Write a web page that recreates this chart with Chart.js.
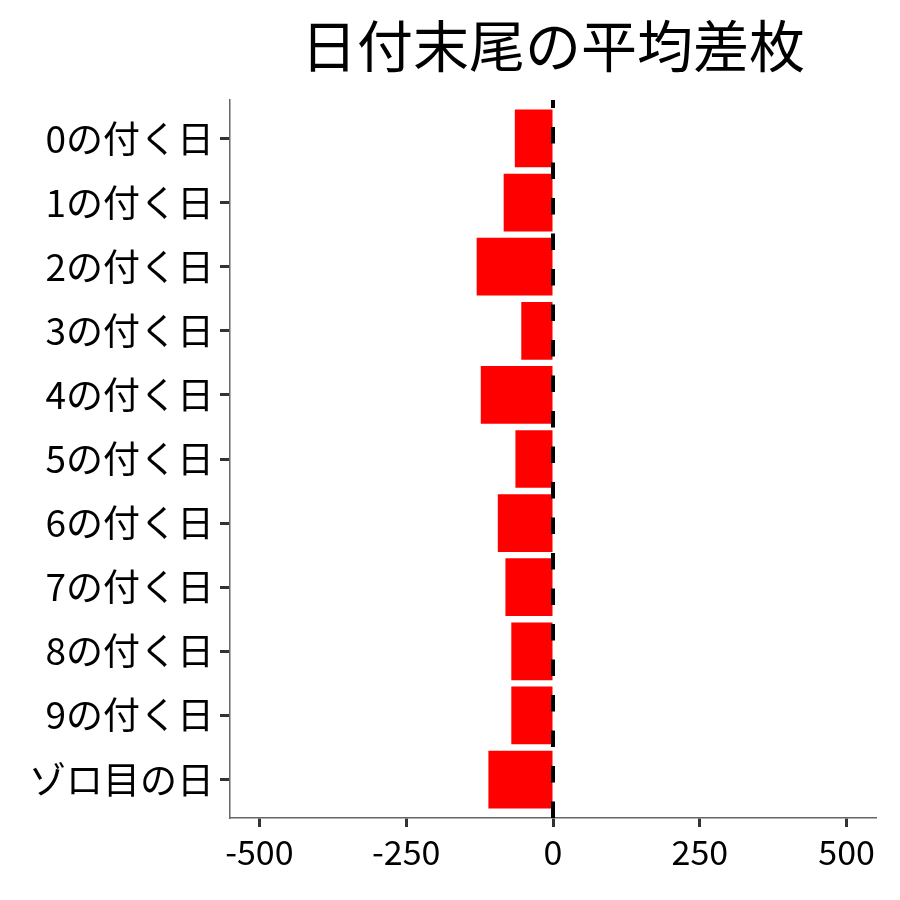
<!DOCTYPE html>
<html>
<head>
<meta charset="utf-8">
<script src="https://cdn.jsdelivr.net/npm/chart.js@4/dist/chart.umd.min.js"></script>
<style>
  html, body { margin: 0; padding: 0; background: #fff; }
  #wrap { width: 900px; height: 900px; }
</style>
</head>
<body>
<div id="wrap"><canvas id="diff_chart" width="900" height="900"></canvas></div>
<script>
// 日付末尾ごとの平均差枚
var categories = ["0の付く日", "1の付く日", "2の付く日", "3の付く日", "4の付く日",
                  "5の付く日", "6の付く日", "7の付く日", "8の付く日", "9の付く日", "ゾロ目の日"];
var avgDiff = [-65, -84, -130, -54, -123, -64, -94, -81, -71, -71, -110];
var xTicks = [-500, -250, 0, 250, 500];
var titleText = "日付末尾の平均差枚";

var JP = "'Noto Sans CJK JP', 'Noto Sans', sans-serif";

// タイトル (プロット領域の中央に置く)
var titlePlugin = {
    id: "centerTitle",
    afterDraw: function (chart) {
        var ctx = chart.ctx, area = chart.chartArea;
        ctx.save();
        ctx.fillStyle = "#000";
        ctx.font = "56px " + JP;
        ctx.textAlign = "center";
        ctx.textBaseline = "middle";
        ctx.fillText(titleText, (area.left + area.right) / 2, 46);
        ctx.restore();
    }
};

// x = 0 の破線
var zeroLine = {
    id: "zeroLine",
    afterDatasetsDraw: function (chart) {
        var ctx = chart.ctx, area = chart.chartArea;
        var x = chart.scales.x.getPixelForValue(0);
        ctx.save();
        ctx.strokeStyle = "#000";
        ctx.lineWidth = 4;
        ctx.setLineDash([16.5, 19]);
        ctx.beginPath();
        ctx.moveTo(x, area.bottom);
        ctx.lineTo(x, area.top);
        ctx.stroke();
        ctx.restore();
    }
};

// カテゴリは位置番号で並べ、上下に 0.6 の余白をとる
var points = avgDiff.map(function (v, i) { return { x: v, y: i }; });

var ctx = document.getElementById("diff_chart").getContext("2d");
new Chart(ctx, {
    type: "bar",
    data: {
        datasets: [{
            label: "平均差枚",
            data: points,
            backgroundColor: "#FF0000",
            borderWidth: 0,
            barPercentage: 0.9,
            categoryPercentage: 1.0
        }]
    },
    options: {
        indexAxis: "y",
        responsive: false,
        animation: false,
        devicePixelRatio: 1,
        layout: { padding: { top: 100, right: 24, bottom: 0, left: 0 } },
        plugins: {
            legend: { display: false },
            title: { display: false },
            tooltip: { enabled: false }
        },
        scales: {
            x: {
                type: "linear",
                min: -550,
                max: 550,
                afterBuildTicks: function (scale) {
                    scale.ticks = xTicks.map(function (v) { return { value: v }; });
                },
                afterFit: function (scale) { scale.height = 82; },
                grid: { drawOnChartArea: false, drawTicks: true, tickLength: 9, tickWidth: 3, tickColor: "#333" },
                border: { display: true, color: "#666", width: 1.5 },
                ticks: { color: "#000", font: { family: JP, size: 34 }, padding: 5, maxRotation: 0 }
            },
            y: {
                type: "linear",
                reverse: true,
                offset: false,
                min: -0.6,
                max: categories.length - 0.4,
                afterBuildTicks: function (scale) {
                    scale.ticks = categories.map(function (c, i) { return { value: i }; });
                },
                afterFit: function (scale) { scale.width = 230; },
                grid: { offset: false, drawOnChartArea: false, drawTicks: true, tickLength: 10, tickWidth: 3, tickColor: "#333" },
                border: { display: true, color: "#666", width: 1.5 },
                ticks: {
                    color: "#000", font: { family: JP, size: 37 }, padding: 6,
                    callback: function (v) { return categories[v]; }
                }
            }
        }
    },
    plugins: [titlePlugin, zeroLine]
});
</script>
</body>
</html>
